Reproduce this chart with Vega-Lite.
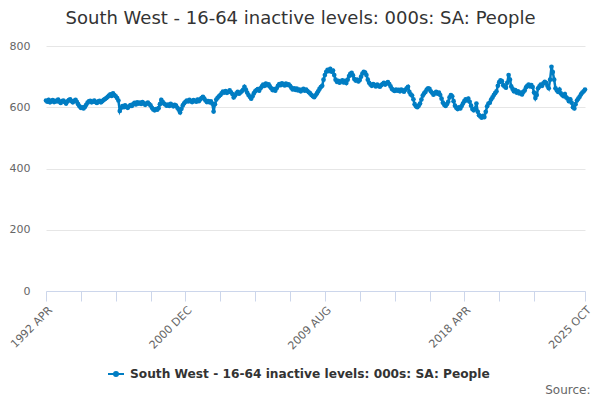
{
  "$schema": "https://vega.github.io/schema/vega-lite/v6.json",
  "width": 539,
  "height": 245,
  "autosize": "none",
  "padding": {"left": 46, "top": 46, "right": 15, "bottom": 109},
  "title": {
    "text": "South West - 16-64 inactive levels: 000s: SA: People",
    "font": "DejaVu Sans",
    "fontSize": 18,
    "fontWeight": "normal",
    "color": "#333333",
    "anchor": "middle",
    "dx": -15,
    "offset": 12
  },
  "config": {
    "view": {"stroke": null},
    "font": "DejaVu Sans"
  },
  "data": {
    "values": [
      {"d":"1992-04","v":622},{"d":"1992-05","v":618},{"d":"1992-06","v":624},{"d":"1992-07","v":616},{"d":"1992-08","v":620},{"d":"1992-09","v":623},{"d":"1992-10","v":617},{"d":"1992-11","v":621},{"d":"1992-12","v":619},
      {"d":"1993-01","v":625},{"d":"1993-02","v":618},{"d":"1993-03","v":614},{"d":"1993-04","v":620},{"d":"1993-05","v":622},{"d":"1993-06","v":617},{"d":"1993-07","v":612},{"d":"1993-08","v":619},{"d":"1993-09","v":623},{"d":"1993-10","v":626},{"d":"1993-11","v":620},{"d":"1993-12","v":616},
      {"d":"1994-01","v":621},{"d":"1994-02","v":624},{"d":"1994-03","v":618},{"d":"1994-04","v":610},{"d":"1994-05","v":603},{"d":"1994-06","v":598},{"d":"1994-07","v":600},{"d":"1994-08","v":596},{"d":"1994-09","v":601},{"d":"1994-10","v":608},{"d":"1994-11","v":615},{"d":"1994-12","v":619},
      {"d":"1995-01","v":621},{"d":"1995-02","v":616},{"d":"1995-03","v":618},{"d":"1995-04","v":622},{"d":"1995-05","v":617},{"d":"1995-06","v":614},{"d":"1995-07","v":619},{"d":"1995-08","v":621},{"d":"1995-09","v":616},{"d":"1995-10","v":620},{"d":"1995-11","v":624},{"d":"1995-12","v":627},
      {"d":"1996-01","v":630},{"d":"1996-02","v":634},{"d":"1996-03","v":638},{"d":"1996-04","v":642},{"d":"1996-05","v":637},{"d":"1996-06","v":645},{"d":"1996-07","v":640},{"d":"1996-08","v":636},{"d":"1996-09","v":630},{"d":"1996-10","v":622},{"d":"1996-11","v":588},{"d":"1996-12","v":598},
      {"d":"1997-01","v":604},{"d":"1997-02","v":600},{"d":"1997-03","v":606},{"d":"1997-04","v":601},{"d":"1997-05","v":598},{"d":"1997-06","v":603},{"d":"1997-07","v":607},{"d":"1997-08","v":604},{"d":"1997-09","v":610},{"d":"1997-10","v":614},{"d":"1997-11","v":609},{"d":"1997-12","v":616},
      {"d":"1998-01","v":612},{"d":"1998-02","v":615},{"d":"1998-03","v":611},{"d":"1998-04","v":617},{"d":"1998-05","v":613},{"d":"1998-06","v":608},{"d":"1998-07","v":612},{"d":"1998-08","v":615},{"d":"1998-09","v":610},{"d":"1998-10","v":606},{"d":"1998-11","v":598},{"d":"1998-12","v":593},
      {"d":"1999-01","v":590},{"d":"1999-02","v":594},{"d":"1999-03","v":592},{"d":"1999-04","v":597},{"d":"1999-05","v":610},{"d":"1999-06","v":624},{"d":"1999-07","v":618},{"d":"1999-08","v":612},{"d":"1999-09","v":609},{"d":"1999-10","v":605},{"d":"1999-11","v":609},{"d":"1999-12","v":604},
      {"d":"2000-01","v":611},{"d":"2000-02","v":607},{"d":"2000-03","v":603},{"d":"2000-04","v":608},{"d":"2000-05","v":605},{"d":"2000-06","v":598},{"d":"2000-07","v":592},{"d":"2000-08","v":583},{"d":"2000-09","v":595},{"d":"2000-10","v":606},{"d":"2000-11","v":613},{"d":"2000-12","v":618},
      {"d":"2001-01","v":622},{"d":"2001-02","v":619},{"d":"2001-03","v":624},{"d":"2001-04","v":620},{"d":"2001-05","v":617},{"d":"2001-06","v":623},{"d":"2001-07","v":621},{"d":"2001-08","v":618},{"d":"2001-09","v":625},{"d":"2001-10","v":620},{"d":"2001-11","v":626},{"d":"2001-12","v":630},
      {"d":"2002-01","v":634},{"d":"2002-02","v":628},{"d":"2002-03","v":622},{"d":"2002-04","v":617},{"d":"2002-05","v":620},{"d":"2002-06","v":616},{"d":"2002-07","v":619},{"d":"2002-08","v":612},{"d":"2002-09","v":586},{"d":"2002-10","v":610},{"d":"2002-11","v":625},{"d":"2002-12","v":631},
      {"d":"2003-01","v":636},{"d":"2003-02","v":640},{"d":"2003-03","v":645},{"d":"2003-04","v":651},{"d":"2003-05","v":648},{"d":"2003-06","v":653},{"d":"2003-07","v":647},{"d":"2003-08","v":650},{"d":"2003-09","v":655},{"d":"2003-10","v":649},{"d":"2003-11","v":643},{"d":"2003-12","v":632},
      {"d":"2004-01","v":638},{"d":"2004-02","v":645},{"d":"2004-03","v":650},{"d":"2004-04","v":644},{"d":"2004-05","v":648},{"d":"2004-06","v":652},{"d":"2004-07","v":657},{"d":"2004-08","v":667},{"d":"2004-09","v":658},{"d":"2004-10","v":648},{"d":"2004-11","v":640},{"d":"2004-12","v":634},
      {"d":"2005-01","v":628},{"d":"2005-02","v":636},{"d":"2005-03","v":645},{"d":"2005-04","v":652},{"d":"2005-05","v":656},{"d":"2005-06","v":659},{"d":"2005-07","v":654},{"d":"2005-08","v":662},{"d":"2005-09","v":668},{"d":"2005-10","v":674},{"d":"2005-11","v":670},{"d":"2005-12","v":677},
      {"d":"2006-01","v":672},{"d":"2006-02","v":675},{"d":"2006-03","v":668},{"d":"2006-04","v":662},{"d":"2006-05","v":656},{"d":"2006-06","v":659},{"d":"2006-07","v":654},{"d":"2006-08","v":662},{"d":"2006-09","v":670},{"d":"2006-10","v":676},{"d":"2006-11","v":672},{"d":"2006-12","v":678},
      {"d":"2007-01","v":674},{"d":"2007-02","v":671},{"d":"2007-03","v":677},{"d":"2007-04","v":673},{"d":"2007-05","v":675},{"d":"2007-06","v":670},{"d":"2007-07","v":664},{"d":"2007-08","v":658},{"d":"2007-09","v":662},{"d":"2007-10","v":657},{"d":"2007-11","v":661},{"d":"2007-12","v":655},
      {"d":"2008-01","v":658},{"d":"2008-02","v":652},{"d":"2008-03","v":657},{"d":"2008-04","v":660},{"d":"2008-05","v":654},{"d":"2008-06","v":658},{"d":"2008-07","v":653},{"d":"2008-08","v":649},{"d":"2008-09","v":645},{"d":"2008-10","v":640},{"d":"2008-11","v":636},{"d":"2008-12","v":633},
      {"d":"2009-01","v":639},{"d":"2009-02","v":645},{"d":"2009-03","v":652},{"d":"2009-04","v":660},{"d":"2009-05","v":666},{"d":"2009-06","v":670},{"d":"2009-07","v":690},{"d":"2009-08","v":705},{"d":"2009-09","v":716},{"d":"2009-10","v":722},{"d":"2009-11","v":718},{"d":"2009-12","v":725},
      {"d":"2010-01","v":716},{"d":"2010-02","v":720},{"d":"2010-03","v":705},{"d":"2010-04","v":690},{"d":"2010-05","v":683},{"d":"2010-06","v":686},{"d":"2010-07","v":680},{"d":"2010-08","v":684},{"d":"2010-09","v":688},{"d":"2010-10","v":681},{"d":"2010-11","v":686},{"d":"2010-12","v":679},
      {"d":"2011-01","v":690},{"d":"2011-02","v":702},{"d":"2011-03","v":709},{"d":"2011-04","v":712},{"d":"2011-05","v":704},{"d":"2011-06","v":692},{"d":"2011-07","v":687},{"d":"2011-08","v":690},{"d":"2011-09","v":684},{"d":"2011-10","v":689},{"d":"2011-11","v":700},{"d":"2011-12","v":710},
      {"d":"2012-01","v":716},{"d":"2012-02","v":713},{"d":"2012-03","v":705},{"d":"2012-04","v":690},{"d":"2012-05","v":680},{"d":"2012-06","v":674},{"d":"2012-07","v":670},{"d":"2012-08","v":676},{"d":"2012-09","v":672},{"d":"2012-10","v":668},{"d":"2012-11","v":674},{"d":"2012-12","v":670},
      {"d":"2013-01","v":667},{"d":"2013-02","v":672},{"d":"2013-03","v":676},{"d":"2013-04","v":680},{"d":"2013-05","v":674},{"d":"2013-06","v":678},{"d":"2013-07","v":682},{"d":"2013-08","v":676},{"d":"2013-09","v":668},{"d":"2013-10","v":660},{"d":"2013-11","v":656},{"d":"2013-12","v":653},
      {"d":"2014-01","v":658},{"d":"2014-02","v":654},{"d":"2014-03","v":657},{"d":"2014-04","v":652},{"d":"2014-05","v":658},{"d":"2014-06","v":655},{"d":"2014-07","v":651},{"d":"2014-08","v":657},{"d":"2014-09","v":662},{"d":"2014-10","v":667},{"d":"2014-11","v":650},{"d":"2014-12","v":642},
      {"d":"2015-01","v":638},{"d":"2015-02","v":626},{"d":"2015-03","v":610},{"d":"2015-04","v":603},{"d":"2015-05","v":600},{"d":"2015-06","v":605},{"d":"2015-07","v":612},{"d":"2015-08","v":625},{"d":"2015-09","v":638},{"d":"2015-10","v":645},{"d":"2015-11","v":650},{"d":"2015-12","v":658},
      {"d":"2016-01","v":662},{"d":"2016-02","v":660},{"d":"2016-03","v":652},{"d":"2016-04","v":647},{"d":"2016-05","v":641},{"d":"2016-06","v":646},{"d":"2016-07","v":650},{"d":"2016-08","v":644},{"d":"2016-09","v":648},{"d":"2016-10","v":640},{"d":"2016-11","v":628},{"d":"2016-12","v":615},
      {"d":"2017-01","v":608},{"d":"2017-02","v":604},{"d":"2017-03","v":610},{"d":"2017-04","v":618},{"d":"2017-05","v":632},{"d":"2017-06","v":640},{"d":"2017-07","v":636},{"d":"2017-08","v":620},{"d":"2017-09","v":605},{"d":"2017-10","v":598},{"d":"2017-11","v":594},{"d":"2017-12","v":600},
      {"d":"2018-01","v":596},{"d":"2018-02","v":604},{"d":"2018-03","v":612},{"d":"2018-04","v":620},{"d":"2018-05","v":626},{"d":"2018-06","v":622},{"d":"2018-07","v":628},{"d":"2018-08","v":618},{"d":"2018-09","v":605},{"d":"2018-10","v":594},{"d":"2018-11","v":590},{"d":"2018-12","v":596},
      {"d":"2019-01","v":612},{"d":"2019-02","v":585},{"d":"2019-03","v":574},{"d":"2019-04","v":570},{"d":"2019-05","v":566},{"d":"2019-06","v":572},{"d":"2019-07","v":568},{"d":"2019-08","v":585},{"d":"2019-09","v":603},{"d":"2019-10","v":612},{"d":"2019-11","v":615},{"d":"2019-12","v":625},
      {"d":"2020-01","v":632},{"d":"2020-02","v":640},{"d":"2020-03","v":646},{"d":"2020-04","v":652},{"d":"2020-05","v":670},{"d":"2020-06","v":682},{"d":"2020-07","v":688},{"d":"2020-08","v":685},{"d":"2020-09","v":672},{"d":"2020-10","v":668},{"d":"2020-11","v":664},{"d":"2020-12","v":680},
      {"d":"2021-01","v":705},{"d":"2021-02","v":690},{"d":"2021-03","v":668},{"d":"2021-04","v":660},{"d":"2021-05","v":652},{"d":"2021-06","v":656},{"d":"2021-07","v":648},{"d":"2021-08","v":652},{"d":"2021-09","v":645},{"d":"2021-10","v":648},{"d":"2021-11","v":642},{"d":"2021-12","v":650},
      {"d":"2022-01","v":655},{"d":"2022-02","v":665},{"d":"2022-03","v":670},{"d":"2022-04","v":674},{"d":"2022-05","v":668},{"d":"2022-06","v":672},{"d":"2022-07","v":666},{"d":"2022-08","v":648},{"d":"2022-09","v":630},{"d":"2022-10","v":640},{"d":"2022-11","v":662},{"d":"2022-12","v":668},
      {"d":"2023-01","v":674},{"d":"2023-02","v":670},{"d":"2023-03","v":678},{"d":"2023-04","v":683},{"d":"2023-05","v":680},{"d":"2023-06","v":670},{"d":"2023-07","v":662},{"d":"2023-08","v":690},{"d":"2023-09","v":732},{"d":"2023-10","v":715},{"d":"2023-11","v":690},{"d":"2023-12","v":662},
      {"d":"2024-01","v":655},{"d":"2024-02","v":650},{"d":"2024-03","v":658},{"d":"2024-04","v":645},{"d":"2024-05","v":640},{"d":"2024-06","v":636},{"d":"2024-07","v":643},{"d":"2024-08","v":632},{"d":"2024-09","v":628},{"d":"2024-10","v":620},{"d":"2024-11","v":626},{"d":"2024-12","v":615},
      {"d":"2025-01","v":600},{"d":"2025-02","v":596},{"d":"2025-03","v":610},{"d":"2025-04","v":622},{"d":"2025-05","v":628},{"d":"2025-06","v":634},{"d":"2025-07","v":642},{"d":"2025-08","v":648},{"d":"2025-09","v":652},{"d":"2025-10","v":658}
    ]
  },
  "mark": {
    "type": "line",
    "strokeWidth": 2.5,
    "point": {"filled": true, "size": 22, "color": "#007dc3"}
  },
  "encoding": {
    "x": {
      "field": "d",
      "type": "temporal",
      "scale": {
        "type": "utc",
        "domain": [
          {"year": 1992, "month": "apr", "date": 1, "utc": true},
          {"year": 2025, "month": "oct", "date": 1, "utc": true}
        ]
      },
      "axis": {
        "title": "Source:",
        "titleFont": "DejaVu Sans",
        "titleFontSize": 12,
        "titleFontWeight": "normal",
        "titleColor": "#666666",
        "titleAlign": "right",
        "titleBaseline": "middle",
        "titleX": 544,
        "titleY": 98,
        "values": [
          {"year": 1992, "month": "apr", "date": 1, "utc": true},
          {"year": 1994, "month": "jun", "date": 1, "utc": true},
          {"year": 1996, "month": "aug", "date": 1, "utc": true},
          {"year": 1998, "month": "oct", "date": 1, "utc": true},
          {"year": 2000, "month": "dec", "date": 1, "utc": true},
          {"year": 2003, "month": "feb", "date": 1, "utc": true},
          {"year": 2005, "month": "apr", "date": 1, "utc": true},
          {"year": 2007, "month": "jun", "date": 1, "utc": true},
          {"year": 2009, "month": "aug", "date": 1, "utc": true},
          {"year": 2011, "month": "oct", "date": 1, "utc": true},
          {"year": 2013, "month": "dec", "date": 1, "utc": true},
          {"year": 2016, "month": "feb", "date": 1, "utc": true},
          {"year": 2018, "month": "apr", "date": 1, "utc": true},
          {"year": 2020, "month": "jun", "date": 1, "utc": true},
          {"year": 2022, "month": "aug", "date": 1, "utc": true},
          {"year": 2025, "month": "oct", "date": 1, "utc": true}
        ],
        "labelExpr": "indexof(['1992 APR','2000 DEC','2009 AUG','2018 APR','2025 OCT'], upper(utcFormat(datum.value, '%Y %b'))) >= 0 ? upper(utcFormat(datum.value, '%Y %b')) : ''",
        "labelAngle": -45,
        "labelFontSize": 11,
        "labelColor": "#666666",
        "labelOverlap": false,
        "labelFlush": false,
        "labelPadding": 3,
        "grid": false,
        "tickSize": 10,
        "tickColor": "#ccd6eb",
        "domainColor": "#ccd6eb"
      }
    },
    "y": {
      "field": "v",
      "type": "quantitative",
      "scale": {"domain": [0, 800], "nice": false},
      "axis": {
        "title": null,
        "values": [0, 200, 400, 600, 800],
        "labelFontSize": 11,
        "labelColor": "#666666",
        "labelPadding": 16,
        "ticks": false,
        "domain": false,
        "gridColor": "#e6e6e6"
      }
    },
    "color": {
      "datum": "South West - 16-64 inactive levels: 000s: SA: People",
      "scale": {"range": ["#007dc3"]},
      "legend": {
        "title": null,
        "orient": "none",
        "legendX": 61,
        "legendY": 319,
        "padding": 0,
        "labelFont": "DejaVu Sans",
        "labelFontSize": 12.2,
        "labelFontWeight": "bold",
        "labelColor": "#333333",
        "labelOffset": 5,
        "labelLimit": 500,
        "symbolType": "M-1,0L1,0M0.25,0A0.25,0.25,0,1,1,-0.25,0A0.25,0.25,0,1,1,0.25,0",
        "symbolSize": 256,
        "symbolStrokeWidth": 2,
        "symbolStrokeColor": "#007dc3",
        "symbolFillColor": "#007dc3"
      }
    }
  }
}
